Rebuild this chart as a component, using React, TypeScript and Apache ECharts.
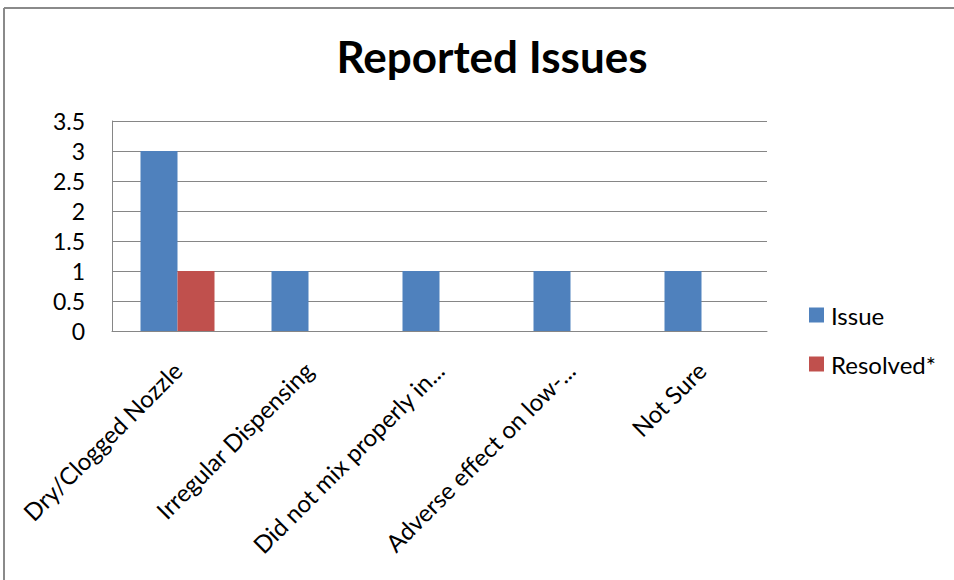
import React, { useEffect, useRef } from "react";
import * as echarts from "echarts";

const categories = [
  "Dry/Clogged Nozzle",
  "Irregular Dispensing",
  "Did not mix properly in...",
  "Adverse effect on low-...",
  "Not Sure",
];
const issueValues = [3, 1, 1, 1, 1];
const resolvedValues = [1, null, null, null, null];
const yTicks = [0, 0.5, 1, 1.5, 2, 2.5, 3, 3.5];

const FONT = "Lato, 'Open Sans', sans-serif";

export default function App() {
  const ref = useRef<HTMLDivElement>(null);
  useEffect(() => {
    if (!ref.current) return;
    const chart = echarts.init(ref.current, null, { renderer: "svg" });
    chart.setOption({
      animation: false,
      backgroundColor: "#ffffff",
      title: {
        text: "Reported Issues",
        left: 487,
        top: 29,
        textAlign: "center",
        textStyle: { fontFamily: FONT, fontWeight: "bold", fontSize: 44, color: "#000" },
      },
      graphic: [
        { type: "line", shape: { x1: 4, y1: 8, x2: 954, y2: 8 }, style: { stroke: "#8a8a8a", lineWidth: 2 } },
        { type: "line", shape: { x1: 4, y1: 8, x2: 4, y2: 580 }, style: { stroke: "#8a8a8a", lineWidth: 2 } },
      ],
      legend: {
        orient: "vertical",
        left: 804,
        top: 298,
        itemWidth: 15,
        itemHeight: 15,
        itemGap: 25,
        icon: "rect",
        textStyle: { fontFamily: FONT, fontSize: 24, lineHeight: 23, color: "#000", padding: [0, 0, 0, 2] },
        data: ["Issue", "Resolved*"],
      },
      grid: { left: 112, top: 121, width: 655, height: 210, containLabel: false },
      xAxis: {
        type: "category",
        data: categories,
        axisLine: { lineStyle: { color: "#868686", width: 1 } },
        axisTick: { show: false },
        axisLabel: {
          rotate: 45,
          interval: 0,
          margin: 35,
          fontFamily: FONT,
          fontSize: 24,
          color: "#000",
        },
      },
      yAxis: {
        type: "value",
        min: 0,
        max: 3.5,
        interval: 0.5,
        axisLine: { show: true, lineStyle: { color: "#868686", width: 1 } },
        axisTick: { show: false },
        splitLine: { lineStyle: { color: "#868686", width: 1 } },
        axisLabel: {
          margin: 27,
          fontFamily: FONT,
          fontSize: 23,
          color: "#000",
          formatter: (v: number) => (yTicks.includes(v) ? String(v) : ""),
        },
      },
      series: [
        {
          name: "Issue",
          type: "bar",
          data: issueValues,
          barWidth: 37,
          barGap: "0%",
          itemStyle: { color: "#4F81BD" },
        },
        {
          name: "Resolved*",
          type: "bar",
          data: resolvedValues,
          barWidth: 37,
          barGap: "0%",
          itemStyle: { color: "#C0504D" },
        },
      ],
    });
    return () => chart.dispose();
  }, []);
  return (
    <div
      ref={ref}
      style={{ position: "fixed", left: 0, top: 0, width: 954, height: 580 }}
    />
  );
}
